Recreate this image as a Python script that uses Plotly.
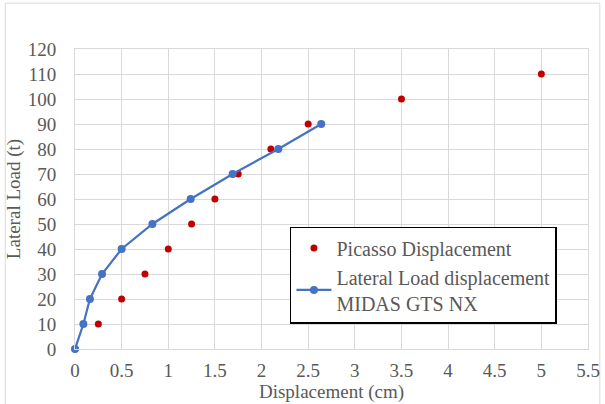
import plotly.graph_objects as go

picasso_x = [0, 0.25, 0.5, 0.75, 1.0, 1.25, 1.5, 1.75, 2.1, 2.5, 3.5, 5.0]
picasso_y = [0, 10, 20, 30, 40, 50, 60, 70, 80, 90, 100, 110]
midas_x = [0, 0.09, 0.16, 0.29, 0.5, 0.83, 1.24, 1.69, 2.18, 2.64]
midas_y = [0, 10, 20, 30, 40, 50, 60, 70, 80, 90]

FONT = "'Liberation Serif', 'Times New Roman', serif"
GREY = "#595959"

fig = go.Figure()
fig.add_trace(go.Scatter(
    x=picasso_x, y=picasso_y, mode="markers", name="Picasso Displacement",
    marker=dict(color="#c00000", size=7), cliponaxis=False,
))
fig.add_trace(go.Scatter(
    x=midas_x, y=midas_y, mode="lines+markers",
    name="Lateral Load displacement<br>MIDAS GTS NX",
    line=dict(color="#4472c4", width=2.2),
    marker=dict(color="#4472c4", size=8), cliponaxis=False,
))

fig.update_layout(
    width=605, height=404,
    margin=dict(l=75, r=17, t=49, b=55, autoexpand=False),
    paper_bgcolor="white", plot_bgcolor="white",
    font=dict(family=FONT, size=19, color=GREY),
    showlegend=True,
    legend=dict(
        x=0.419, y=0.407, xanchor="left", yanchor="top",
        bordercolor="black", borderwidth=1.5, bgcolor="white",
        font=dict(family=FONT, size=20, color=GREY),
        tracegroupgap=20, itemwidth=35,
    ),
    shapes=[dict(type="rect", xref="paper", yref="paper",
                 x0=-0.136, x1=1.023, y0=-0.19, y1=1.153,
                 line=dict(color="#d9d9d9", width=1), layer="below")],
)
fig.update_xaxes(
    range=[0, 5.5], dtick=0.5, tick0=0,
    showgrid=True, gridcolor="#d9d9d9", gridwidth=1,
    zeroline=False, showline=True, linecolor="#d9d9d9",
    ticks="", ticklabelstandoff=4,
    title=dict(text="Displacement (cm)", standoff=0, font=dict(size=19)),
    tickfont=dict(size=19), mirror=True,
)
fig.update_yaxes(
    range=[0, 120], dtick=10, tick0=0,
    showgrid=True, gridcolor="#d9d9d9", gridwidth=1,
    zeroline=False, showline=True, linecolor="#d9d9d9",
    ticks="", ticklabelstandoff=14,
    title=dict(text="Lateral Load (t)", standoff=2, font=dict(size=19)),
    tickfont=dict(size=19), mirror=True,
)

fig.write_html("out.html")
